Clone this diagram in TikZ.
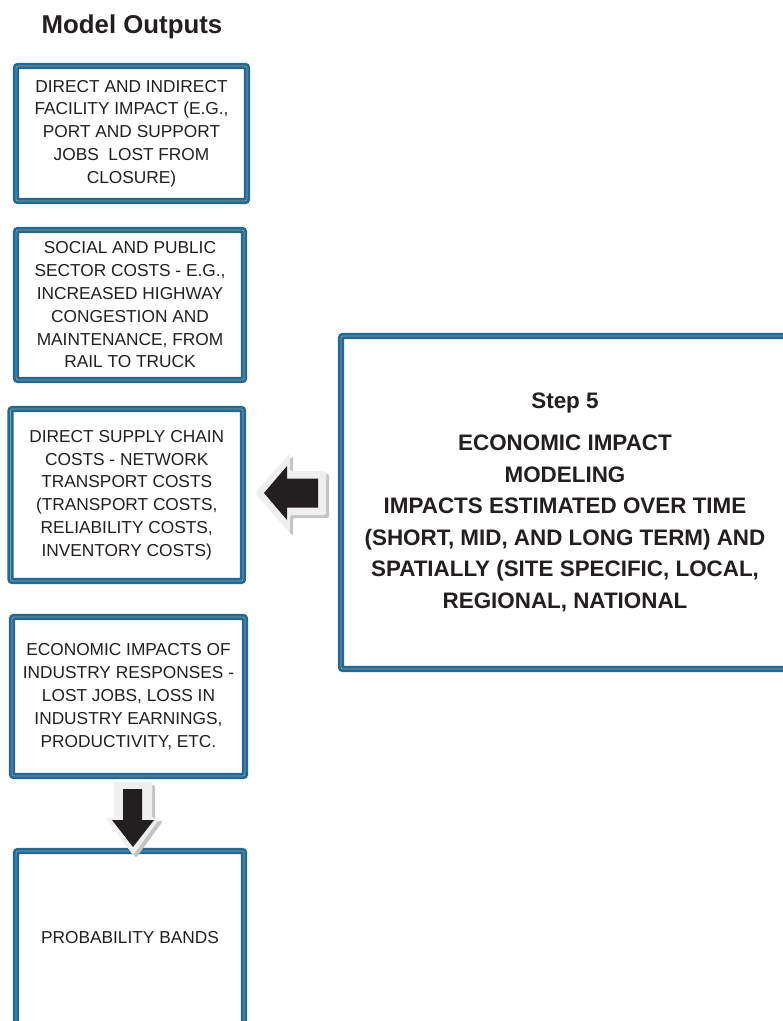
\documentclass[tikz,border=0pt]{standalone}
\usepackage{fontspec}
\setmainfont{Liberation Sans}
\definecolor{frameblue}{HTML}{1F6A97}
\definecolor{frameline}{HTML}{A89A84}
\definecolor{ink}{HTML}{231F20}
\definecolor{arrowfill}{HTML}{EFEFEF}
\definecolor{arrowshade}{HTML}{C4C4C4}
\begin{document}
\begin{tikzpicture}[x=1pt,y=-1pt,
  outbox/.style={draw=frameblue, double=frameline, line width=2.8pt,
    double distance=0.7pt, rounded corners=2pt, fill=white, inner sep=0pt,
    align=center, text=ink, font=\fontsize{17.3}{22.8}\selectfont},
  stepbox/.style={outbox, font=\bfseries\fontsize{22.4}{31.5}\selectfont},
  blockshade/.style={fill=arrowshade, rounded corners=2pt},
  blockbody/.style={fill=arrowfill, rounded corners=2pt},
  blockink/.style={fill=ink}]
\clip (0,0) rectangle (783,1021);

% heading
\node[font=\bfseries\fontsize{25.8}{30}\selectfont, text=ink, anchor=base] (title) at (132,33) {Model Outputs};

% output boxes
\node[outbox, minimum width=231pt, minimum height=135pt] (facility) at (131.5,133.5)
  {DIRECT AND INDIRECT\\FACILITY IMPACT (E.G.,\\PORT AND SUPPORT\\JOBS\ \ LOST FROM\\CLOSURE)};
\node[outbox, minimum width=228pt, minimum height=150pt] (social) at (130,305)
  {SOCIAL AND PUBLIC\\SECTOR COSTS - E.G.,\\INCREASED HIGHWAY\\CONGESTION AND\\MAINTENANCE, FROM\\RAIL TO TRUCK};
\node[outbox, minimum width=232.5pt, minimum height=172pt] (supply) at (126.75,495)
  {DIRECT SUPPLY CHAIN\\COSTS - NETWORK\\TRANSPORT COSTS\\(TRANSPORT COSTS,\\RELIABILITY COSTS,\\INVENTORY COSTS)};
\node[outbox, minimum width=233pt, minimum height=159pt] (industry) at (128.5,696.5)
  {ECONOMIC IMPACTS OF\\INDUSTRY RESPONSES -\\LOST JOBS, LOSS IN\\INDUSTRY EARNINGS,\\PRODUCTIVITY, ETC.};
\node[outbox, minimum width=228pt, minimum height=174pt] (bands) at (130,938)
  {PROBABILITY BANDS};

% modeling step
\node[stepbox, minimum width=448pt, minimum height=333pt] (step) at (565,502.5)
  {Step 5\\[10.5pt]ECONOMIC IMPACT\\MODELING\\IMPACTS ESTIMATED OVER TIME\\(SHORT, MID, AND LONG TERM) AND\\SPATIALLY (SITE SPECIFIC, LOCAL,\\REGIONAL, NATIONAL};

% block arrow: step 5 feeds the supply chain costs
\fill[blockshade, shift={(3,3)}] (255,493) -- (290,453) -- (290,471) -- (326,471)
  -- (326,515) -- (290,515) -- (290,533) -- cycle;
\fill[blockbody] (255,493) -- (290,453) -- (290,471) -- (326,471)
  -- (326,515) -- (290,515) -- (290,533) -- cycle;
\fill[blockink] (264,493) -- (287,466) -- (287,478.5) -- (318,478.5)
  -- (318,507.5) -- (287,507.5) -- (287,520) -- cycle;

% block arrow: industry responses lead to probability bands
\fill[blockshade, shift={(3,3)}] (133,855) -- (106,818) -- (114,818) -- (114,782)
  -- (152,782) -- (152,818) -- (160,818) -- cycle;
\fill[blockbody] (133,855) -- (106,818) -- (114,818) -- (114,782)
  -- (152,782) -- (152,818) -- (160,818) -- cycle;
\fill[blockink] (133,847) -- (112,820) -- (123,820) -- (123,789)
  -- (142,789) -- (142,820) -- (154,820) -- cycle;
\end{tikzpicture}
\end{document}
